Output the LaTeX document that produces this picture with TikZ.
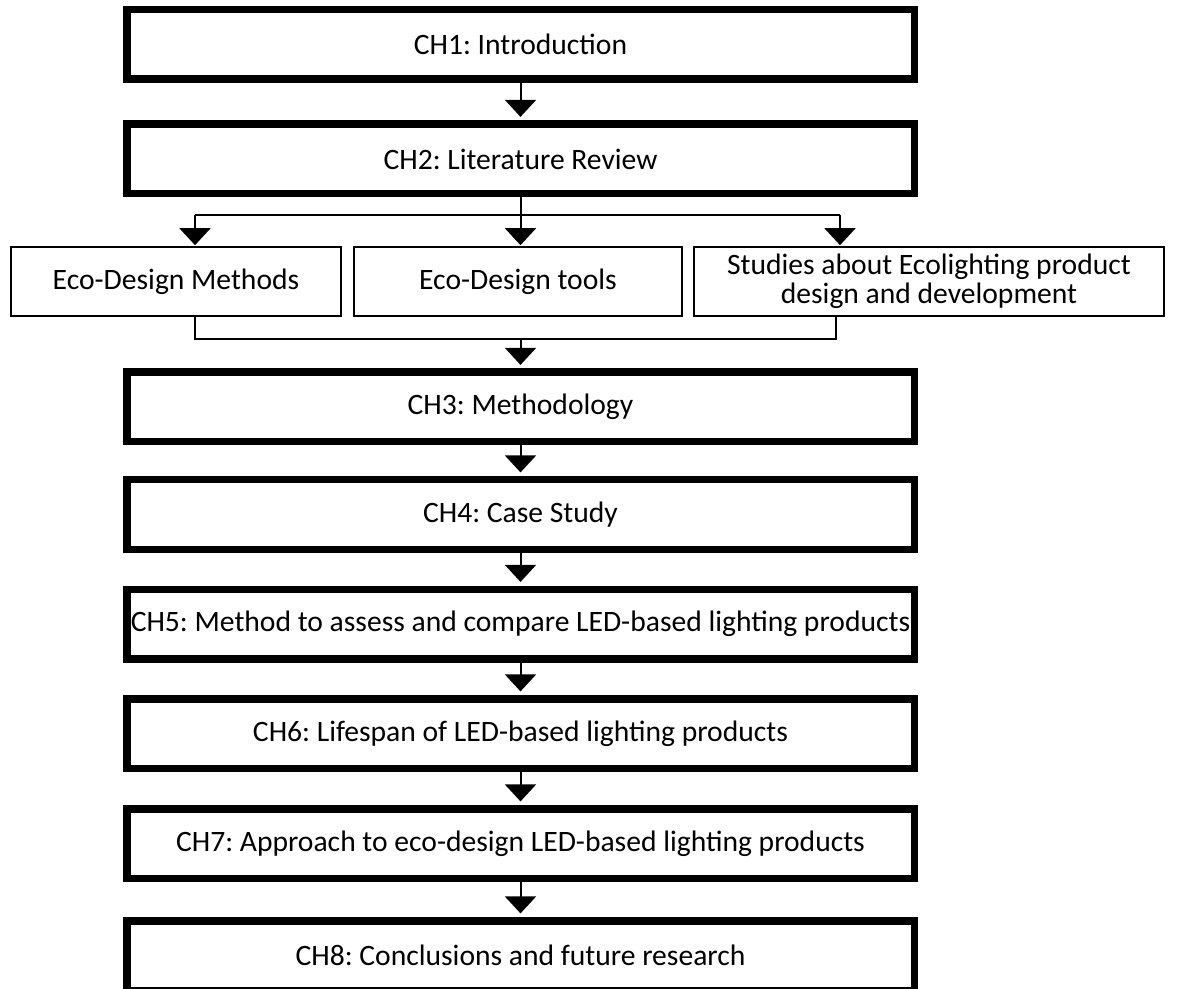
\documentclass[tikz,border=0pt]{standalone}
\usepackage{fontspec}
\setmainfont{Carlito}
\usetikzlibrary{arrows.meta}
\frenchspacing
\begin{document}
\begin{tikzpicture}[x=0.5pt,y=-0.5pt,
  bigbox/.style={draw, line width=3.75pt, minimum width=393.75pt, minimum height=34.75pt, inner sep=0pt, font=\fontsize{14.8}{17}\selectfont},
  smallbox/.style={draw, line width=1pt, minimum height=34.5pt, inner sep=0pt, align=center, font=\fontsize{14.8}{14.6}\selectfont},
  conn/.style={line width=1pt},
  arr/.style={conn, -{Triangle[width=15.5pt,length=8.5pt]}, shorten >=1.8pt},
  sarr/.style={conn, -{Triangle[width=15.5pt,length=8.5pt]}, shorten >=0.4pt}]
\useasboundingbox (0,0) rectangle (1189,989);
\node[bigbox] (ch1) at (520.5,44.5) {CH1: Introduction};
\node[bigbox] (ch2) at (520.5,159) {CH2: Literature Review};
\node[smallbox, minimum width=165pt] (m1) at (176,281.5) {Eco-Design Methods};
\node[smallbox, minimum width=164pt] (m2) at (518,281.5) {Eco-Design tools};
\node[smallbox, minimum width=235pt] (m3) at (929,281.5) {Studies about Ecolighting product\\design and development};
\node[bigbox] (ch3) at (520.5,407) {CH3: Methodology};
\node[bigbox] (ch4) at (520.5,514.5) {CH4: Case Study};
\node[bigbox] (ch5) at (520.5,624) {CH5: Method to assess and compare LED-based lighting products};
\node[bigbox] (ch6) at (520.5,733.5) {CH6: Lifespan of LED-based lighting products};
\node[bigbox] (ch7) at (520.5,843.5) {CH7: Approach to eco-design LED-based lighting products};
\node[bigbox] (ch8) at (520.5,955.5) {CH8: Conclusions and future research};
\draw[arr] (ch1.south) -- (ch2.north);
\coordinate (j1) at (195,215);
\coordinate (j3) at (840,215);
\coordinate (j2) at (ch2.south |- j1);
\draw[conn] (ch2.south) -- (j2);
\draw[conn] (j1) -- (j3);
\draw[sarr] (j1) -- (j1 |- m1.north);
\draw[sarr] (j2) -- (j2 |- m2.north);
\draw[sarr] (j3) -- (j3 |- m3.north);
\coordinate (k1) at (195,339);
\coordinate (k3) at (836,339);
\coordinate (k2) at (ch3.north |- k1);
\draw[conn] (m1.south -| k1) -- (k1) -- (k3) -- (m3.south -| k3);
\draw[arr] (k2) -- (ch3.north);
\draw[arr] (ch3.south) -- (ch4.north);
\draw[arr] (ch4.south) -- (ch5.north);
\draw[arr] (ch5.south) -- (ch6.north);
\draw[arr] (ch6.south) -- (ch7.north);
\draw[arr] (ch7.south) -- (ch8.north);
\end{tikzpicture}
\end{document}
